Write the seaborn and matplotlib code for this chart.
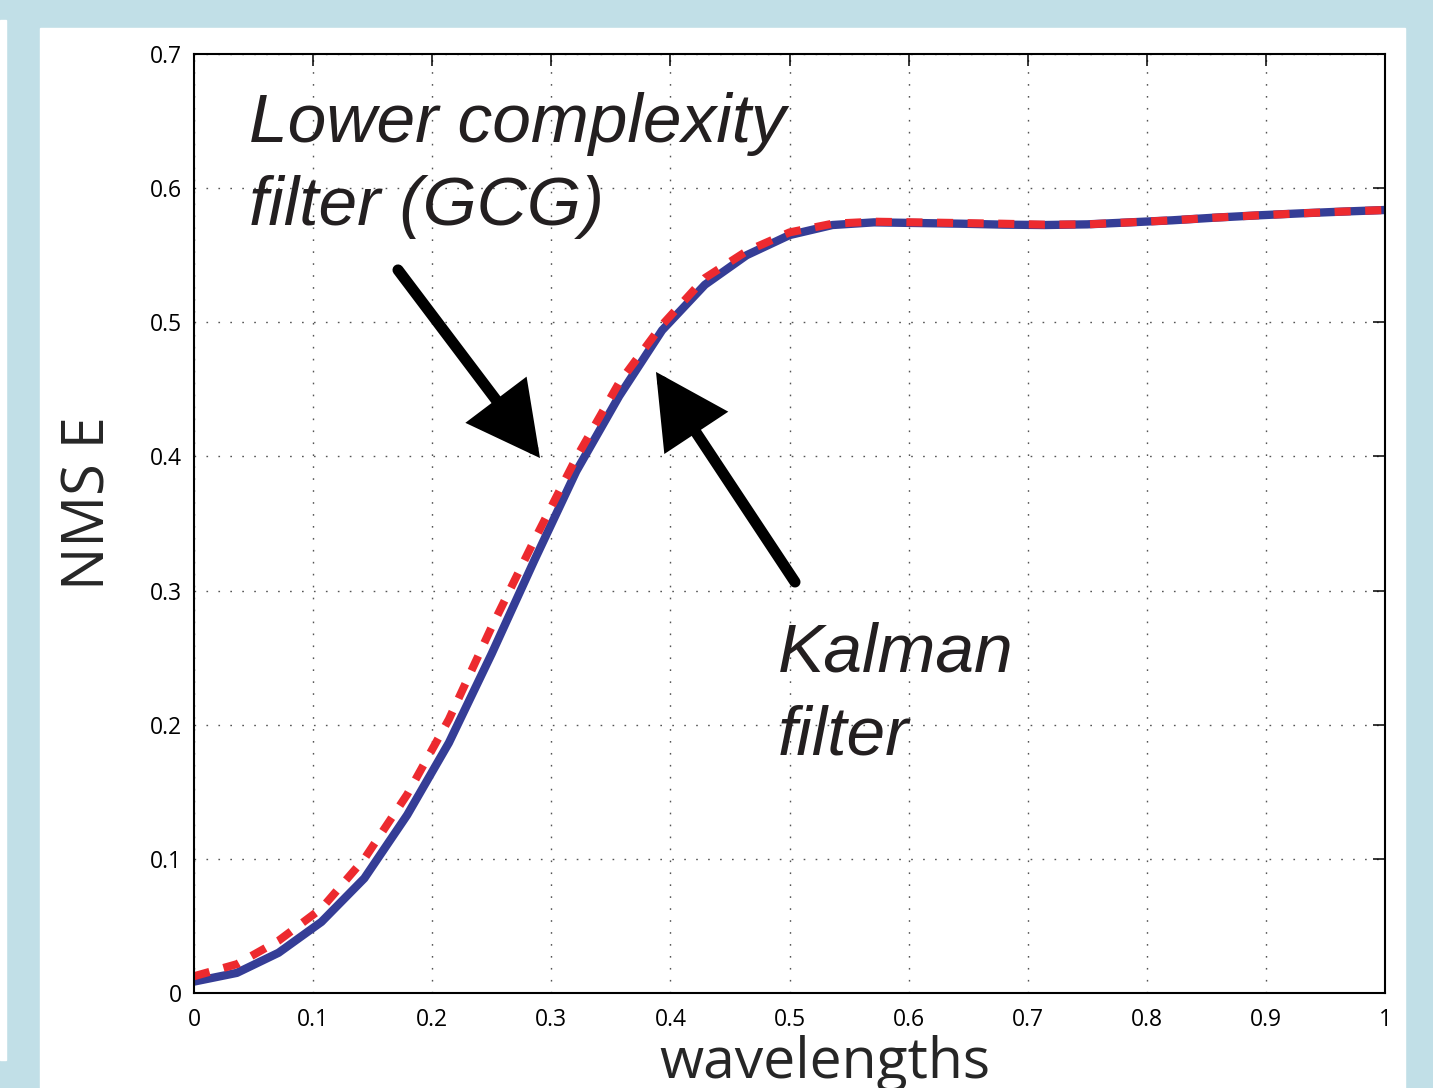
import numpy as np
import pandas as pd
import seaborn as sns
import matplotlib.pyplot as plt
from matplotlib.patches import Rectangle

# Values
wavelengths = [0.0, 0.036, 0.071, 0.107, 0.143, 0.179, 0.214, 0.25, 0.286, 0.321,
               0.357, 0.393, 0.429, 0.464, 0.5, 0.536, 0.571, 0.607, 0.643, 0.679,
               0.714, 0.75, 0.786, 0.821, 0.857, 0.893, 0.929, 0.964, 1.0]
nmse_kalman = [0.0085, 0.015, 0.030, 0.053, 0.0855, 0.1327, 0.1865, 0.253, 0.323, 0.389,
               0.445, 0.494, 0.528, 0.550, 0.565, 0.5725, 0.5745, 0.574, 0.5735, 0.5728,
               0.5725, 0.573, 0.5745, 0.576, 0.578, 0.5797, 0.5812, 0.5825, 0.5837]
nmse_gcg = [0.0125, 0.0215, 0.039, 0.063, 0.100, 0.148, 0.204, 0.273, 0.338, 0.399,
            0.455, 0.498, 0.533, 0.553, 0.567, 0.5735, 0.575, 0.5745, 0.574, 0.5735,
            0.5728, 0.573, 0.5745, 0.576, 0.578, 0.5797, 0.5812, 0.5825, 0.5837]
x_ticks = [0, 0.1, 0.2, 0.3, 0.4, 0.5, 0.6, 0.7, 0.8, 0.9, 1]
x_ticklabels = ['0', '0.1', '0.2', '0.3', '0.4', '0.5', '0.6', '0.7', '0.8', '0.9', '1']
y_ticks = [0, 0.1, 0.2, 0.3, 0.4, 0.5, 0.6, 0.7]
y_ticklabels = ['0', '0.1', '0.2', '0.3', '0.4', '0.5', '0.6', '0.7']

df = pd.DataFrame({'wavelengths': wavelengths,
                   'kalman': nmse_kalman,
                   'gcg': nmse_gcg})

sns.set_style('white')
plt.rcParams['font.family'] = ['Open Sans', 'DejaVu Sans']

W, H = 1433, 1088
fig = plt.figure(figsize=(W / 100, H / 100), dpi=100, facecolor='#c1dfe7')

# white panel + thin white strip on the left edge (behind the axes)
fig.patches.append(Rectangle((40 / W, 0), (1405 - 40) / W, (H - 28) / H,
                             transform=fig.transFigure, facecolor='white', zorder=-5))
fig.patches.append(Rectangle((0, 1 - 1060 / H), 6 / W, (1060 - 20) / H,
                             transform=fig.transFigure, facecolor='white', zorder=-5))

ax = fig.add_axes([194 / W, 1 - 993 / H, (1385 - 194) / W, (993 - 54) / H])
ax.set_facecolor('white')

sns.lineplot(data=df, x='wavelengths', y='kalman', ax=ax,
             color='#353d96', linewidth=6.0)
sns.lineplot(data=df, x='wavelengths', y='gcg', ax=ax,
             color='#ed2a2f', linewidth=5.8)
ax.lines[-1].set_linestyle((0, (2.0, 1.8)))
ax.lines[-1].set_dash_capstyle('butt')

ax.set_xlim(0, 1)
ax.set_ylim(0, 0.7)
ax.set_xticks(x_ticks)
ax.set_xticklabels(x_ticklabels)
ax.set_yticks(y_ticks)
ax.set_yticklabels(y_ticklabels)
ax.tick_params(direction='in', length=8.5, width=1.1, labelsize=16.5,
               top=True, right=True, colors='black')
ax.tick_params(axis='x', pad=11)
ax.tick_params(axis='y', pad=9)
ax.grid(True, color='#555555', linestyle=(0, (1.2, 7.4)), linewidth=1.0)
for s in ax.spines.values():
    s.set_visible(True)
    s.set_color('black')
    s.set_linewidth(1.5)

ax.set_xlabel('wavelengths', fontsize=41, va='baseline')
ax.xaxis.set_label_coords((825 - 194) / 1191, -(1078 - 993) / 939)
ax.set_ylabel('NMS E', fontsize=41.5, va='center', ha='center', rotation_mode='default')
ax.yaxis.set_label_coords((89 - 194) / 1191, (993 - 503) / 939)

# annotations (baseline of the last line)
txt_kw = dict(fontsize=50, style='italic', family=['Liberation Sans', 'DejaVu Sans'],
              color='#231f20', linespacing=1.38, va='baseline', ha='left')
ax.text(0.0458, (993 - 225) / 1341.4, 'Lower complexity\nfilter (GCG)', **txt_kw)
ax.text(0.4903, (993 - 755) / 1341.4, 'Kalman\nfilter', **txt_kw)

arrow_kw = dict(arrowstyle='-|>,head_length=4.0,head_width=2.1', color='black',
                lw=8, shrinkA=0, shrinkB=0, mutation_scale=10, joinstyle='miter')
ax.annotate('', xy=(0.2905, 0.3988), xytext=(0.1713, 0.539), arrowprops=arrow_kw)
ax.annotate('', xy=(0.3879, 0.463), xytext=(0.5046, 0.3064), arrowprops=arrow_kw)

fig.savefig('out.png', dpi=100, facecolor=fig.get_facecolor())
